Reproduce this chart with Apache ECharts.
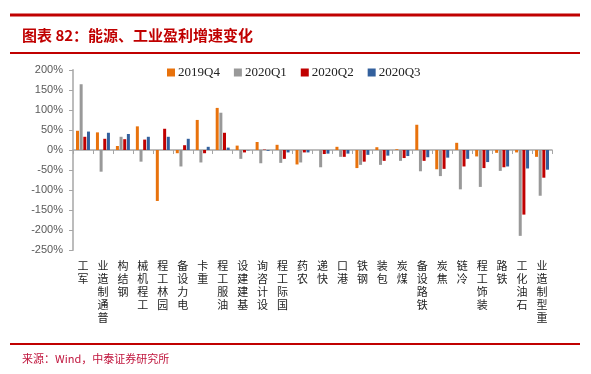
<!DOCTYPE html>
<html>
<head>
<meta charset="utf-8">
<script src="https://cdn.jsdelivr.net/npm/echarts@6/dist/echarts.min.js"></script>
<style>
html,body{margin:0;padding:0;background:#fff;}
#chart{width:591px;height:374px;}
</style>
</head>
<body>
<div id="chart"></div>
<script>
var categories = ['军工','普通制造业','钢结构','工程机械','园林工程','电力设备','重卡','油服工程','基建建设','设计咨询','国际工程','农药','快递','港口','钢铁','包装','煤炭','铁路设备','焦炭','冷链','装饰工程','铁路','石油化工','重型制造业'];
var seriesNames = ['2019Q4','2020Q1','2020Q2','2020Q3'];
var q4_2019 = [48,44,10,59,-127,-8,75,105,11,20,13,-36,0,8,-45,7,2,63,-48,18,-16,-7,-6,-17];
var q1_2020 = [164,-54,33,-29,0,-41,-31,93,-22,-33,-32,-31,-43,-17,-37,-37,-27,-53,-65,-98,-92,-52,-214,-114];
var q2_2020 = [33,28,27,26,53,12,-8,43,-6,1,-22,-6,-10,-17,-29,-27,-20,-27,-47,-41,-45,-43,-161,-69];
var q3_2020 = [46,43,40,33,33,28,8,6,-1,-2,-6,-6,-9,-9,-12,-14,-15,-18,-19,-22,-30,-41,-46,-49];
var yTicks = [-250,-200,-150,-100,-50,0,50,100,150,200];

var colors = ['#E8720C','#999999','#C00000','#33609D'];
var allData = [q4_2019,q1_2020,q2_2020,q3_2020];

var chart = echarts.init(document.getElementById('chart'), null, {renderer:'canvas'});
var series = allData.map(function(d,i){
  return {
    name: seriesNames[i], type:'bar', data:d, barWidth:3, barGap:'22%',
    itemStyle:{color:colors[i]}
  };
});
var option = {
  animation:false,
  backgroundColor:'#fff',
  color: colors,
  legend:{
    data: seriesNames, left:167, top:66, padding:0, itemWidth:8, itemHeight:8, itemGap:14,
    icon:'rect',
    textStyle:{fontFamily:'Liberation Serif', fontSize:13, color:'#222', padding:[0,0,0,-2]}
  },
  grid:{left:73, right:39, top:69.8, bottom:123.7, containLabel:false, outerBoundsMode:'none'},
  xAxis:{
    type:'category', data:categories,
    axisLine:{onZero:true, lineStyle:{color:'#A6A6A6', width:1.5}},
    axisTick:{show:true, length:4, lineStyle:{color:'#A6A6A6'}},
    axisLabel:{
      interval:0, margin:9, fontSize:11, lineHeight:13, color:'#222',
      fontFamily:'Noto Sans CJK SC', verticalAlign:'top',
      formatter:function(v){ return v.split('').reverse().join('\n'); }
    }
  },
  yAxis:{
    type:'value', min:-250, max:200, interval:50,
    axisLine:{show:true, lineStyle:{color:'#A6A6A6', width:1.5}},
    axisTick:{show:true, length:4, lineStyle:{color:'#A6A6A6'}},
    splitLine:{show:false},
    axisLabel:{
      margin:10, fontSize:11, color:'#595959', fontFamily:'Liberation Sans',
      formatter:function(v){ return v + '%'; }
    }
  },
  series: series,
  graphic:[
    {type:'line', shape:{x1:10,y1:15,x2:580,y2:15}, style:{stroke:'#C00000', lineWidth:3}},
    {type:'text', left:22, top:28, style:{text:'图表 82：能源、工业盈利增速变化', fill:'#C00000', font:'bold 15px "Noto Sans CJK SC"'}},
    {type:'line', shape:{x1:10,y1:53,x2:580,y2:53}, style:{stroke:'#C00000', lineWidth:2}},
    {type:'line', shape:{x1:10,y1:344,x2:580,y2:344}, style:{stroke:'#C00000', lineWidth:2}},
    {type:'text', left:22, top:353, style:{text:'来源：Wind，中泰证券研究所', fill:'#C0143C', font:'11px "Noto Sans CJK SC"'}}
  ]
};
chart.setOption(option);
</script>
</body>
</html>
